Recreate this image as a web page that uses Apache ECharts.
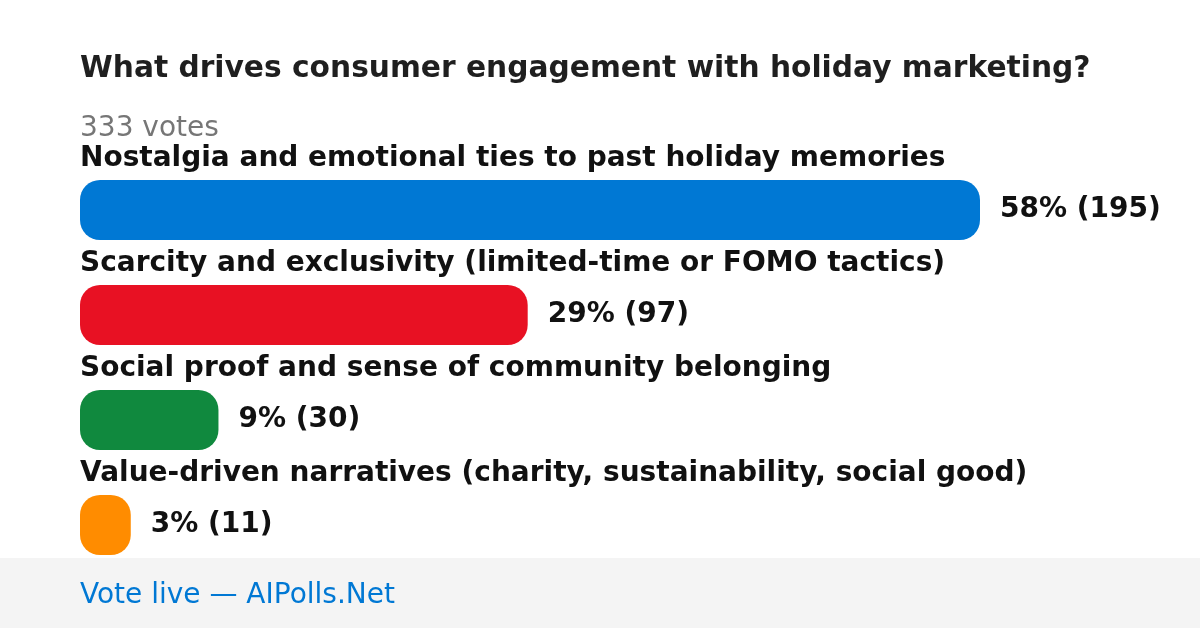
<!DOCTYPE html>
<html>
<head>
<meta charset="utf-8">
<script src="https://cdn.jsdelivr.net/npm/echarts@6/dist/echarts.min.js"></script>
<style>
html,body{margin:0;padding:0;background:#fff;}
#chart{width:1200px;height:628px;}
</style>
</head>
<body>
<div id="chart"></div>
<script>
const titleText = 'What drives consumer engagement with holiday marketing?';
const subtitleText = '333 votes';
const footerText = 'Vote live \u2014 AIPolls.Net';
const categories = [
  'Nostalgia and emotional ties to past holiday memories',
  'Scarcity and exclusivity (limited-time or FOMO tactics)',
  'Social proof and sense of community belonging',
  'Value-driven narratives (charity, sustainability, social good)'
];
const votes = [195, 97, 30, 11];
const percents = [58, 29, 9, 3];
const colors = ['#0078d4', '#e81123', '#10893e', '#ff8c00'];

const FONT = 'DejaVu Sans';
const chart = echarts.init(document.getElementById('chart'), null, {renderer: 'canvas'});
chart.setOption({
  backgroundColor: '#ffffff',
  animation: false,
  graphic: [
    {type: 'rect', left: 0, top: 558, shape: {width: 1200, height: 70}, style: {fill: '#f4f4f4'}, z: 0},
    {type: 'text', left: 80, top: 582, style: {text: footerText, fill: '#0078d4', fontFamily: FONT, fontSize: 28}, z: 10},
    {type: 'text', left: 80, top: 54, style: {text: titleText, fill: '#1f1f1f', fontFamily: FONT, fontWeight: 'bold', fontSize: 29.7}},
    {type: 'text', left: 80, top: 115, style: {text: subtitleText, fill: '#767676', fontFamily: FONT, fontSize: 28}}
  ],
  grid: {left: 80, width: 900, top: 157.5, height: 420, containLabel: false},
  xAxis: {type: 'value', min: 0, max: 195, show: false},
  yAxis: {
    type: 'category', data: categories, inverse: true,
    axisLine: {show: false}, axisTick: {show: false}, splitLine: {show: false},
    axisLabel: {
      inside: true, margin: 0, align: 'left', verticalAlign: 'bottom',
      padding: [0, 0, 37, 0], color: '#111111', fontFamily: FONT, fontWeight: 'bold', fontSize: 28
    },
    z: 5
  },
  series: [{
    type: 'bar',
    data: votes.map((v, i) => ({value: v, itemStyle: {color: colors[i]}})),
    barWidth: 60,
    itemStyle: {borderRadius: 20},
    label: {
      show: true, position: 'right', distance: 20,
      formatter: p => percents[p.dataIndex] + '% (' + votes[p.dataIndex] + ')',
      color: '#111111', fontFamily: FONT, fontWeight: 'bold', fontSize: 28
    }
  }]
});
</script>
</body>
</html>
